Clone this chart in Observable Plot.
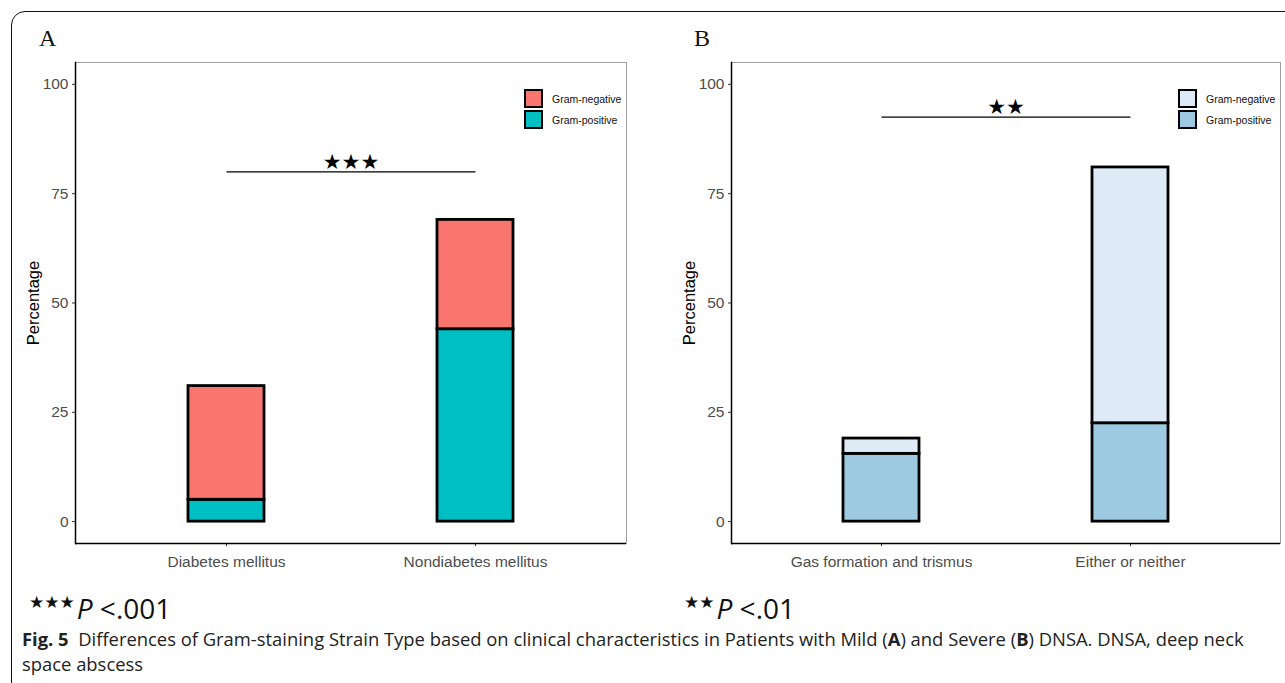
<!DOCTYPE html>
<html>
<head>
<meta charset="utf-8">
<script src="https://cdn.jsdelivr.net/npm/d3@7"></script>
<script src="https://cdn.jsdelivr.net/npm/@observablehq/plot@0.6"></script>
<style>
  html, body { margin: 0; padding: 0; background: #fff; }
  #page { position: relative; width: 1285px; height: 683px; overflow: hidden; background: #fff; }
  .abs { position: absolute; white-space: nowrap; }
  .panel-label { font-family: "Liberation Serif", "DejaVu Serif", serif; font-size: 24px; color: #111; line-height: 1; }
  .legend { font-family: "Liberation Sans", Arial, sans-serif; font-size: 10.5px; color: #111; }
  .legend .row { display: flex; align-items: center; height: 21px; }
  .legend .sw { width: 15px; height: 15px; border: 2px solid #000; margin-right: 9px; }
  .foot { font-family: "Open Sans", "Noto Sans", sans-serif; color: #111; line-height: 1; }
  .cap { font-family: "Open Sans", "Noto Sans", sans-serif; font-size: 18.4px; line-height: 25px; color: #222; }
</style>
</head>
<body>
<div id="page">
  <div class="abs" style="left:11px;top:11px;width:1400px;height:1000px;border:1.5px solid #111;border-radius:14px;box-sizing:border-box;"></div>
  <div id="plotA" class="abs" style="left:0;top:0;"></div>
  <div id="plotB" class="abs" style="left:640px;top:0;"></div>
  <div class="abs panel-label" style="left:39px;top:26px;">A</div>
  <div class="abs panel-label" style="left:694px;top:26px;">B</div>
  <div id="legendA" class="abs legend" style="left:524px;top:88px;"></div>
  <div id="legendB" class="abs legend" style="left:1178px;top:88px;"></div>
  <div id="footA" class="abs foot" style="left:29px;top:594px;"></div>
  <div id="footB" class="abs foot" style="left:684px;top:594px;"></div>
  <div class="abs cap" style="left:22px;top:626px;"><b>Fig. 5</b>&nbsp; Differences of Gram-staining Strain Type based on clinical characteristics in Patients with Mild (<b>A</b>) and Severe (<b>B</b>) DNSA. DNSA, deep neck<br>space abscess</div>
</div>
<script>
// ---- data ----
const types = ["Gram-negative", "Gram-positive"];
const groupsA = ["Diabetes mellitus", "Nondiabetes mellitus"];
const gramPositiveA = [5, 44];
const gramNegativeA = [26, 25];
const groupsB = ["Gas formation and trismus", "Either or neither"];
const gramPositiveB = [15.5, 22.5];
const gramNegativeB = [3.5, 58.5];
const colorsA = ["#F8766D", "#00BFC4"];
const colorsB = ["#DEEBF7", "#9ECAE1"];
const yTicks = [0, 25, 50, 75, 100];
const sigLevelA = 80, sigStarsA = "★★★", sigTextA = "<.001";
const sigLevelB = 92.5, sigStarsB = "★★", sigTextB = "<.01";
const yLabel = "Percentage";

function rows(groups, pos, neg) {
  const out = [];
  groups.forEach((g, i) => {
    out.push({group: g, type: "Gram-positive", value: pos[i]});
    out.push({group: g, type: "Gram-negative", value: neg[i]});
  });
  return out;
}

function panel(groups, pos, neg, colors, sigLevel, stars, width, marginLeft, marginRight) {
  const data = rows(groups, pos, neg);
  return Plot.plot({
    width, height: 600,
    marginLeft, marginRight, marginTop: 62, marginBottom: 57,
    style: {fontFamily: "'Liberation Sans', Arial, sans-serif", fontSize: "15.5px", color: "#4d4d4d", background: "transparent"},
    x: {domain: groups, paddingInner: 0.696, paddingOuter: 0.45, align: 0.5, label: null},
    y: {domain: [-5, 105], ticks: yTicks, label: null},
    color: {domain: types, range: colors},
    marks: [
      Plot.frame({stroke: "#a0a0a0", strokeWidth: 1}),
      Plot.barY(data, Plot.stackY({x: "group", y: "value", fill: "type", stroke: "#000", strokeWidth: 2.8, strokeLinejoin: "miter"})),
      Plot.link([{a: groups[0], b: groups[1], y: sigLevel}], {x1: "a", x2: "b", y1: "y", y2: "y", stroke: "#000", strokeWidth: 1.3}),
      Plot.text([stars], {y: () => sigLevel, text: d => d, dy: -10, fontSize: 21, fontFamily: "DejaVu Sans", fill: "#000"}),
      Plot.axisY({ticks: yTicks, tickSize: 3, tickPadding: 4, stroke: "#333", label: null}),
      Plot.axisX({tickSize: 3, tickPadding: 9, stroke: "#333", label: null}),
      Plot.ruleY([-5], {stroke: "#000", strokeWidth: 1.5}),
      Plot.frame({anchor: "left", stroke: "#000", strokeWidth: 1.5}),
      Plot.text([yLabel], {frameAnchor: "left", textAnchor: "middle", dx: -42, rotate: -90, text: d => d, fontSize: 16.5, fill: "#000"})
    ]
  });
}

document.getElementById("plotA").appendChild(panel(groupsA, gramPositiveA, gramNegativeA, colorsA, sigLevelA, sigStarsA, 640, 75, 14));
document.getElementById("plotB").appendChild(panel(groupsB, gramPositiveB, gramNegativeB, colorsB, sigLevelB, sigStarsB, 645, 91, 5));

function legend(id, colors) {
  const el = document.getElementById(id);
  types.forEach((t, i) => {
    const r = document.createElement("div");
    r.className = "row";
    r.innerHTML = `<div class="sw" style="background:${colors[i]}"></div><span>${t}</span>`;
    el.appendChild(r);
  });
}
legend("legendA", colorsA);
legend("legendB", colorsB);

function foot(id, stars, text) {
  document.getElementById(id).innerHTML =
    `<span style="font-family:'DejaVu Sans';font-size:17px;position:relative;top:-11px;">${stars}</span>` +
    `<span style="font-size:28px;font-style:italic;margin-left:2px;">P</span>` +
    `<span style="font-size:28px;"> ${text.replace("<", "&lt;")}</span>`;
}
foot("footA", sigStarsA, sigTextA);
foot("footB", sigStarsB, sigTextB);
</script>
</body>
</html>
